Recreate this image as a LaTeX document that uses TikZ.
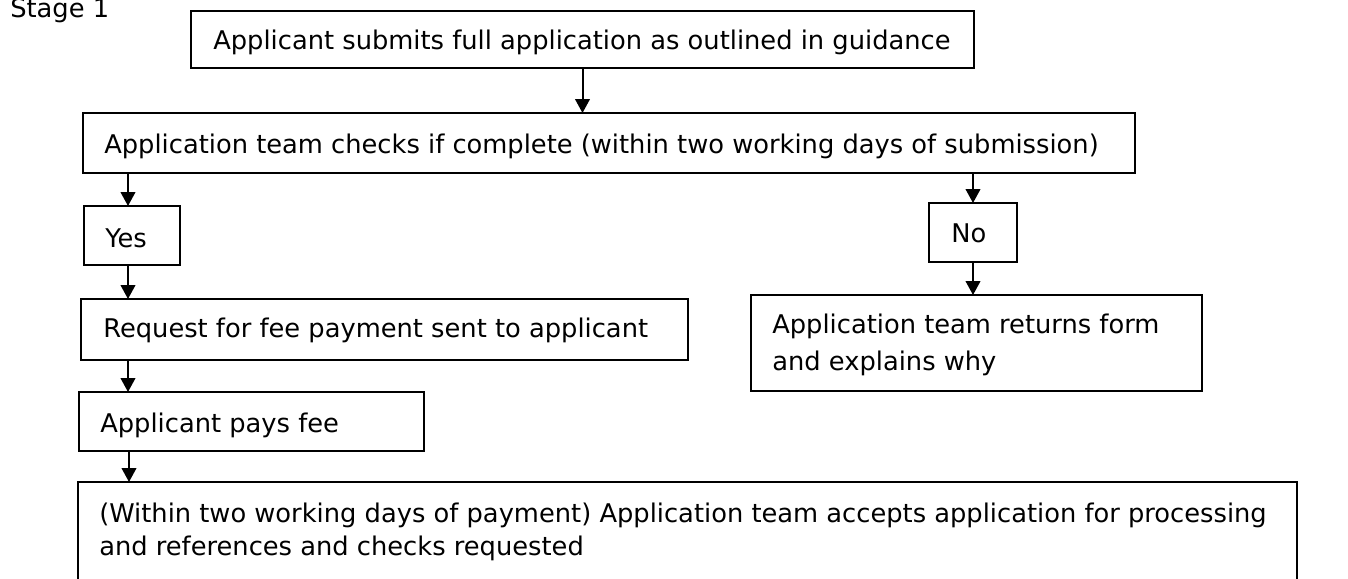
\documentclass[tikz,border=0pt]{standalone}
\usepackage{fontspec}
\setmainfont{DejaVu Sans}
\usetikzlibrary{arrows.meta}
\begin{document}
\begin{tikzpicture}[x=0.75pt,y=-0.75pt,
  box/.style={draw,line width=1.5pt,rectangle,anchor=north west,inner sep=0pt,outer sep=0pt},
  txt/.style={anchor=base west,inner sep=0pt,align=left,font=\fontsize{19.3}{27.75}\selectfont},
  arr/.style={line width=1.5pt,-{Triangle[width=11pt,length=10.5pt]}}]
\clip (0,0) rectangle (1348,578);
\fill[white] (0,0) rectangle (1348,578);
% boxes
\node[box,minimum width=783*0.75pt,minimum height=57*0.75pt] (b1) at (191,11) {};
\node[box,minimum width=1052*0.75pt,minimum height=60*0.75pt] (b2) at (83,113) {};
\node[box,minimum width=96*0.75pt,minimum height=59*0.75pt] (yes) at (84,206) {};
\node[box,minimum width=88*0.75pt,minimum height=59*0.75pt] (no) at (929,203) {};
\node[box,minimum width=451*0.75pt,minimum height=96*0.75pt] (ret) at (751,295) {};
\node[box,minimum width=607*0.75pt,minimum height=61*0.75pt] (req) at (81,299) {};
\node[box,minimum width=345*0.75pt,minimum height=59*0.75pt] (pays) at (79,392) {};
\node[box,minimum width=1219*0.75pt,minimum height=130*0.75pt] (fin) at (78,482) {};
% texts
\node[txt] (tstage) at (10,17) {Stage 1};
\node[txt] (t1) at (213,49) {Applicant submits full application as outlined in guidance};
\node[txt] (t2) at (104,153) {Application team checks if complete (within two working days of submission)};
\node[txt] (tyes) at (105,247) {Yes};
\node[txt] (tno) at (951,242) {No};
\node[txt,font=\fontsize{19.3}{27.75}\selectfont] (tret) at (772,370) {Application team returns form\\and explains why};
\node[txt] (treq) at (103,337) {Request for fee payment sent to applicant};
\node[txt] (tpays) at (100,432) {Applicant pays fee};
\node[txt,font=\fontsize{19.3}{24.75}\selectfont] (tfin) at (99,555) {(Within two working days of payment) Application team accepts application for processing\\and references and checks requested};
% connectors
\coordinate (cx) at (128,0);
\coordinate (cx2) at (129,0);
\draw[arr] (b1.south) -- (b1.south |- b2.north);
\draw[arr] (b2.south -| cx) -- (yes.north -| cx);
\draw[arr] (yes.south -| cx) -- (req.north -| cx);
\draw[arr] (b2.south -| no.north) -- (no.north);
\draw[arr] (no.south) -- (no.south |- ret.north);
\draw[arr] (req.south -| cx) -- (pays.north -| cx);
\draw[arr] (pays.south -| cx2) -- (fin.north -| cx2);
\end{tikzpicture}
\end{document}
